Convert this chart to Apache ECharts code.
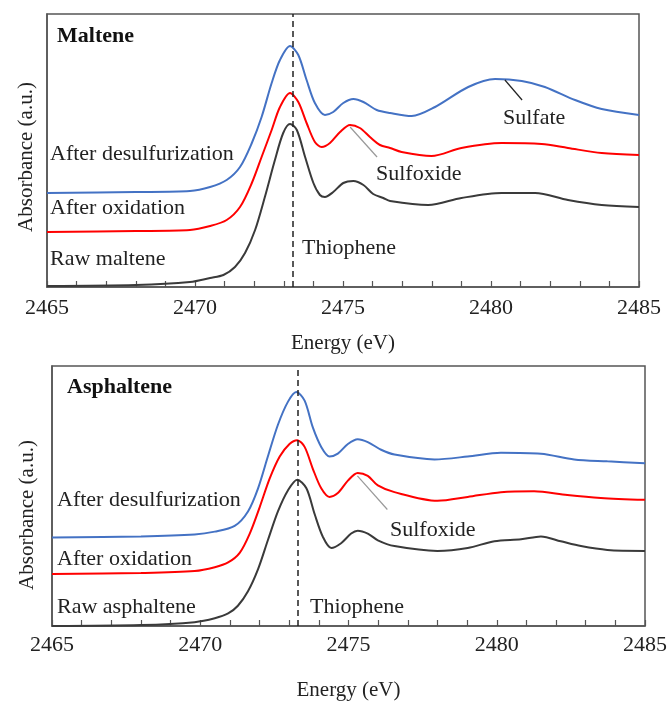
<!DOCTYPE html>
<html>
<head>
<meta charset="utf-8">
<script src="https://cdn.jsdelivr.net/npm/echarts@6/dist/echarts.min.js"></script>
<style>
  html, body { margin: 0; padding: 0; background: #fff; }
  #chart { width: 670px; height: 702px; }
</style>
</head>
<body>
<div id="chart"></div>
<script>
// Sulfur K-edge XANES, maltene (top) and asphaltene (bottom)
const thiopheneEV = 2473.3;

// --- Maltene ---
const maltRawE = [2465, 2468, 2469.83, 2470.51, 2470.96, 2471.35, 2471.69, 2472.03, 2472.36, 2472.70, 2472.98, 2473.21, 2473.44, 2473.72, 2474.0, 2474.22, 2474.39, 2474.67, 2475.01, 2475.35, 2475.69, 2476.02, 2476.36, 2476.59, 2477.88, 2479.0, 2480.36, 2481.49, 2482.6, 2483.74, 2485];
const maltRawA = [0.01, 0.02, 0.05, 0.09, 0.12, 0.20, 0.34, 0.57, 0.90, 1.27, 1.54, 1.63, 1.57, 1.30, 1.04, 0.92, 0.90, 0.95, 1.04, 1.06, 1.02, 0.93, 0.89, 0.86, 0.82, 0.89, 0.94, 0.94, 0.87, 0.82, 0.80];

const maltOxE = [2465, 2468, 2469.83, 2470.51, 2471.07, 2471.52, 2471.92, 2472.25, 2472.59, 2472.87, 2473.21, 2473.49, 2473.77, 2474.05, 2474.28, 2474.56, 2474.9, 2475.24, 2475.57, 2475.91, 2476.25, 2476.59, 2476.98, 2477.99, 2479.0, 2480.36, 2481.71, 2482.6, 2483.74, 2485];
const maltOxA = [0.55, 0.56, 0.57, 0.61, 0.67, 0.80, 1.04, 1.30, 1.57, 1.80, 1.94, 1.85, 1.64, 1.45, 1.40, 1.44, 1.55, 1.62, 1.59, 1.50, 1.42, 1.39, 1.35, 1.31, 1.39, 1.44, 1.43, 1.39, 1.34, 1.32];

const maltDesE = [2465, 2468, 2469.83, 2470.51, 2471.07, 2471.52, 2471.92, 2472.25, 2472.59, 2472.87, 2473.21, 2473.49, 2473.77, 2474.05, 2474.39, 2474.67, 2475.01, 2475.35, 2475.69, 2476.14, 2476.59, 2477.32, 2478.11, 2479.23, 2480.14, 2481.04, 2481.82, 2482.84, 2483.74, 2485];
const maltDesA = [0.94, 0.95, 0.96, 1.00, 1.07, 1.20, 1.44, 1.70, 2.04, 2.27, 2.41, 2.32, 2.07, 1.84, 1.72, 1.75, 1.84, 1.88, 1.85, 1.77, 1.74, 1.71, 1.80, 2.00, 2.08, 2.06, 2.00, 1.87, 1.78, 1.72];

// --- Asphaltene ---
const asphRawE = [2465, 2468, 2469.81, 2470.49, 2470.94, 2471.27, 2471.61, 2471.95, 2472.28, 2472.62, 2472.96, 2473.27, 2473.58, 2473.86, 2474.13, 2474.42, 2474.75, 2475.09, 2475.31, 2475.65, 2475.99, 2476.55, 2478.0, 2479.02, 2479.92, 2480.82, 2481.49, 2482.16, 2482.84, 2483.73, 2485];
const asphRawA = [0.0, 0.01, 0.04, 0.08, 0.13, 0.21, 0.36, 0.59, 0.89, 1.19, 1.41, 1.52, 1.43, 1.16, 0.93, 0.81, 0.86, 0.96, 0.99, 0.96, 0.89, 0.83, 0.78, 0.81, 0.88, 0.90, 0.93, 0.88, 0.83, 0.79, 0.78];

const asphOxE = [2465, 2468, 2469.81, 2470.49, 2470.94, 2471.33, 2471.67, 2472.0, 2472.34, 2472.68, 2473.01, 2473.27, 2473.52, 2473.8, 2474.08, 2474.36, 2474.64, 2474.98, 2475.31, 2475.65, 2475.99, 2476.55, 2478.0, 2479.02, 2480.14, 2481.26, 2482.38, 2483.51, 2485];
const asphOxA = [0.54, 0.55, 0.57, 0.61, 0.66, 0.76, 0.96, 1.23, 1.53, 1.76, 1.89, 1.93, 1.86, 1.63, 1.43, 1.34, 1.38, 1.51, 1.59, 1.56, 1.46, 1.39, 1.30, 1.34, 1.39, 1.40, 1.36, 1.33, 1.31];

const asphDesE = [2465, 2468, 2469.81, 2470.49, 2471.16, 2471.61, 2471.95, 2472.28, 2472.62, 2472.96, 2473.24, 2473.52, 2473.8, 2474.08, 2474.36, 2474.64, 2474.98, 2475.31, 2475.65, 2476.1, 2476.55, 2477.9, 2479.02, 2480.14, 2481.49, 2482.61, 2483.73, 2485];
const asphDesA = [0.92, 0.93, 0.95, 0.98, 1.04, 1.19, 1.43, 1.76, 2.09, 2.33, 2.43, 2.34, 2.06, 1.86, 1.76, 1.79, 1.89, 1.94, 1.91, 1.83, 1.78, 1.73, 1.76, 1.80, 1.79, 1.73, 1.71, 1.69];

// leader lines for peak labels [x1, y1, x2, y2]
const sulfateLeaderTop = [2480.47, 2.07, 2481.05, 1.87];
const sulfoxideLeaderTop = [2475.24, 1.60, 2476.15, 1.30];
const sulfoxideLeaderBot = [2475.30, 1.56, 2476.31, 1.21];

const xTicks = [2465, 2470, 2475, 2480, 2485];

const FONT = '"Liberation Serif", "DejaVu Serif", serif';
const BLUE = '#4472c4', RED = '#ff0000', DARK = '#3a3a3a';

function zip(e, a) { return e.map((x, i) => [x, a[i]]); }

function xAxisFor(gi) {
  return {
    gridIndex: gi, type: 'value', min: xTicks[0], max: xTicks[xTicks.length - 1], interval: 5,
    axisLine: { show: true, lineStyle: { color: '#555', width: 1.5 } },
    axisTick: { show: true, inside: true, length: 6, lineStyle: { color: '#555', width: 1.2 } },
    minorTick: { show: true, splitNumber: 5, length: 6, lineStyle: { color: '#555', width: 1.2 } },
    splitLine: { show: false },
    axisLabel: { fontFamily: FONT, fontSize: 22, color: '#222', margin: gi === 0 ? 10 : 8,
      formatter: v => String(v) },
    name: 'Energy (eV)', nameLocation: 'middle', nameGap: gi === 0 ? 46 : 54,
    nameTextStyle: { fontFamily: FONT, fontSize: 21, color: '#222' }
  };
}
function yAxisFor(gi, max) {
  return {
    gridIndex: gi, type: 'value', min: 0, max: max,
    axisLine: { show: true, lineStyle: { color: '#555', width: 1.5 } },
    axisTick: { show: false }, axisLabel: { show: false }, splitLine: { show: false }
  };
}
function curve(gi, data, color) {
  return {
    type: 'line', xAxisIndex: gi, yAxisIndex: gi, data: data, showSymbol: false,
    smooth: 0.3, lineStyle: { color: color, width: 2 }, itemStyle: { color: color },
    silent: true, animation: false
  };
}
function leader(seg, color) {
  return [{ coord: [seg[0], seg[1]] }, { coord: [seg[2], seg[3]] , lineStyle: { color: color, width: 1.2, type: 'solid' } }];
}
function withMarks(s, lines) {
  s.markLine = {
    silent: true, symbol: 'none', animation: false, label: { show: false },
    data: lines
  };
  return s;
}
function txt(x, y, text, opts) {
  return Object.assign({
    type: 'text', x: x, y: y,
    style: { text: text, font: '22px ' + FONT, fill: '#222', verticalAlign: 'middle', align: 'left' }
  }, opts || {});
}

const dashed = { xAxis: thiopheneEV, lineStyle: { type: [6, 4], color: '#222', width: 1.5 } };

const chart = echarts.init(document.getElementById('chart'), null, { renderer: 'canvas' });
chart.setOption({
  animation: false,
  grid: [
    { left: 47, top: 14, right: 31, bottom: 415, show: true, borderColor: '#555', borderWidth: 1.5 },
    { left: 52, top: 366, right: 24, bottom: 66, show: true, borderColor: '#555', borderWidth: 1.5 }
  ],
  xAxis: [xAxisFor(0), xAxisFor(1)],
  yAxis: [yAxisFor(0, 2.73), yAxisFor(1, 2.70)],
  series: [
    withMarks(curve(0, zip(maltRawE, maltRawA), DARK), [dashed]),
    withMarks(curve(0, zip(maltOxE, maltOxA), RED), [leader(sulfoxideLeaderTop, '#999')]),
    withMarks(curve(0, zip(maltDesE, maltDesA), BLUE), [leader(sulfateLeaderTop, '#222')]),
    withMarks(curve(1, zip(asphRawE, asphRawA), DARK), [dashed]),
    withMarks(curve(1, zip(asphOxE, asphOxA), RED), [leader(sulfoxideLeaderBot, '#999')]),
    curve(1, zip(asphDesE, asphDesA), BLUE)
  ],
  graphic: [
    txt(57, 36, 'Maltene', { style: { text: 'Maltene', font: 'bold 22px ' + FONT, fill: '#111', verticalAlign: 'middle' } }),
    txt(50, 154, 'After desulfurization'),
    txt(50, 208, 'After oxidation'),
    txt(50, 259, 'Raw maltene'),
    txt(302, 248, 'Thiophene'),
    txt(376, 174, 'Sulfoxide'),
    txt(503, 118, 'Sulfate'),
    { type: 'text', x: 26, y: 157, rotation: Math.PI / 2,
      style: { text: 'Absorbance (a.u.)', font: '21px ' + FONT, fill: '#222', align: 'center', verticalAlign: 'middle' } },

    txt(67, 387, 'Asphaltene', { style: { text: 'Asphaltene', font: 'bold 22px ' + FONT, fill: '#111', verticalAlign: 'middle' } }),
    txt(57, 500, 'After desulfurization'),
    txt(57, 559, 'After oxidation'),
    txt(57, 607, 'Raw asphaltene'),
    txt(310, 607, 'Thiophene'),
    txt(390, 530, 'Sulfoxide'),
    { type: 'text', x: 27, y: 515, rotation: Math.PI / 2,
      style: { text: 'Absorbance (a.u.)', font: '21px ' + FONT, fill: '#222', align: 'center', verticalAlign: 'middle' } }
  ]
});
</script>
</body>
</html>
